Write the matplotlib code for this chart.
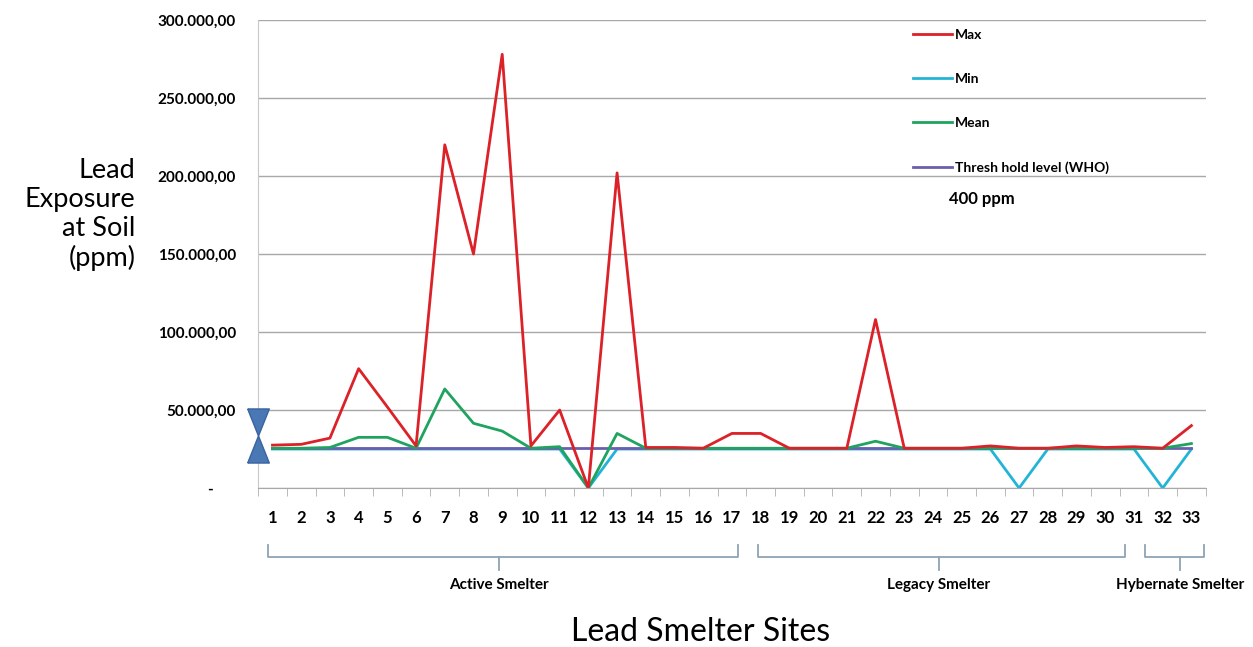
import matplotlib.pyplot as plt
from matplotlib.ticker import FixedLocator

sites = list(range(1, 34))

max_ppm = [27500, 28000, 32000, 76500, 52000, 27000, 220000, 150000, 278000, 27000,
           50000, 0, 202000, 26000, 26000, 25500, 35000, 35000, 25500, 25500,
           25500, 108000, 25500, 25500, 25500, 27000, 25500, 25500, 27000, 26000,
           26500, 25500, 40000]
min_ppm = [25000, 25000, 25000, 25000, 25000, 25000, 25000, 25000, 25000, 25000,
           25000, 0, 25000, 25000, 25000, 25000, 25000, 25000, 25000, 25000,
           25000, 25000, 25000, 25000, 25000, 25000, 0, 25000, 25000, 25000,
           25000, 0, 25000]
mean_ppm = [25500, 25500, 26000, 32500, 32500, 25500, 63500, 41500, 36500, 25500,
            26500, 0, 35000, 25500, 25500, 25500, 25500, 25500, 25500, 25500,
            25500, 30000, 25500, 25500, 25500, 25500, 25500, 25500, 25500, 25500,
            25500, 25500, 28500]
threshold_ppm = [25500] * 33

y_ticks = [0, 50000, 100000, 150000, 200000, 250000, 300000]
y_tick_labels = ["-      ", "50.000,00", "100.000,00", "150.000,00",
                 "200.000,00", "250.000,00", "300.000,00"]

# site groups: label, bracket start, bracket end, stem position
groups = [("Active Smelter", 0.85, 17.2, 8.9),
          ("Legacy Smelter", 17.9, 30.7, 24.2),
          ("Hybernate Smelter", 31.4, 33.45, 32.6)]

hourglass_top = 42600
hourglass_bottom = 25300

FONT = ["Lato", "DejaVu Sans"]

fig = plt.figure(figsize=(12.53, 6.47), dpi=100)
ax = fig.add_axes([0.206, 0.2457, 0.7563, 0.7234])

ax.plot(sites, min_ppm, color="#22b4d6", linewidth=2.0, label="Min")
ax.plot(sites, threshold_ppm, color="#6a5fae", linewidth=2.0, label="Thresh hold level (WHO)")
ax.plot(sites, mean_ppm, color="#1fa35f", linewidth=2.0, label="Mean")
ax.plot(sites, max_ppm, color="#dc2128", linewidth=2.0, label="Max")

# hourglass marker on the y axis
down_tri = [(-0.8, 1), (0.8, 1), (0, -1), (-0.8, 1)]
up_tri = [(-0.8, -1), (0.8, -1), (0, 1), (-0.8, -1)]
ax.plot([0.5], [hourglass_top], marker=down_tri, markersize=19.5, color="#4a78b5",
        markeredgecolor="#3a64a0", clip_on=False, zorder=5)
ax.plot([0.5], [hourglass_bottom], marker=up_tri, markersize=19.5, color="#4a78b5",
        markeredgecolor="#3a64a0", clip_on=False, zorder=5)

ax.set_xlim(0.5, 33.5)
ax.set_ylim(0, 300000)
ax.set_yticks(y_ticks)
ax.set_yticklabels(y_tick_labels, family=FONT, fontweight="bold", fontsize=11)
ax.tick_params(axis="y", length=0, pad=16)
ax.set_xticks(sites)
ax.set_xticklabels([str(s) for s in sites], family=FONT, fontweight="bold", fontsize=12)
ax.tick_params(axis="x", which="major", length=0, pad=16)
ax.xaxis.set_minor_locator(FixedLocator([s - 0.5 for s in sites] + [33.5]))
ax.tick_params(axis="x", which="minor", length=6, color="#b0b0b0")

ax.grid(axis="y", color="#a8a8a8", linewidth=1.0)
ax.set_axisbelow(True)
for side in ("top", "right"):
    ax.spines[side].set_visible(False)
ax.spines["left"].set_color("#c8c8c8")
ax.spines["bottom"].set_color("#a8a8a8")

handles, labels = ax.get_legend_handles_labels()
order = [3, 0, 2, 1]
ax.legend([handles[i] for i in order], [labels[i] for i in order],
          loc="upper left", bbox_to_anchor=(0.678, 1.007), frameon=False,
          labelspacing=2.3, handlelength=2.8, handletextpad=0.2,
          prop={"family": FONT, "weight": "bold", "size": 10})
ax.text(0.729, 0.6175, "400 ppm", transform=ax.transAxes, ha="left", va="center",
        family=FONT, fontweight="bold", fontsize=12)

# group brackets below the site numbers
trans = ax.get_xaxis_transform()
for name, x0, x1, xm in groups:
    ax.plot([x0, x0, x1, x1], [-0.122, -0.147, -0.147, -0.122], color="#8da4b4",
            linewidth=1.3, transform=trans, clip_on=False)
    ax.plot([xm, xm], [-0.147, -0.175], color="#8da4b4", linewidth=1.3,
            transform=trans, clip_on=False)
    ax.text(xm, -0.207, name, transform=trans, ha="center", va="center",
            family=FONT, fontweight="bold", fontsize=11)

fig.text(0.108, 0.668, "Lead\nExposure\nat Soil\n(ppm)", ha="right", va="center",
         family=FONT, fontsize=19.5, linespacing=1.2)
fig.text(0.559, 0.023, "Lead Smelter Sites", ha="center", va="center",
         family=FONT, fontsize=23)

fig.savefig("out.png", dpi=100)
